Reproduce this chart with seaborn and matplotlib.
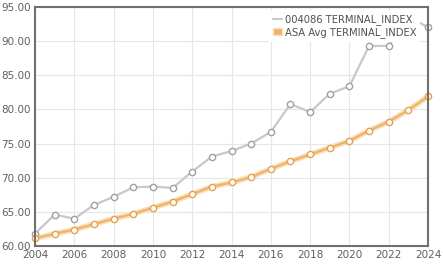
import matplotlib
matplotlib.use("Agg")
import matplotlib.pyplot as plt
import seaborn as sns
import pandas as pd
from matplotlib.ticker import FormatStrFormatter, MultipleLocator
from matplotlib.lines import Line2D
from matplotlib.patches import Patch

years = list(range(2004, 2025))
fund_values = [61.8, 64.6, 64.0, 66.0, 67.2, 68.6, 68.7, 68.5, 70.9, 73.1, 73.9,
               75.0, 76.7, 80.8, 79.6, 82.3, 83.4, 89.3, 89.3, 93.7, 92.0]
avg_values = [61.1, 61.8, 62.4, 63.2, 64.0, 64.7, 65.6, 66.5, 67.6, 68.7, 69.3,
              70.1, 71.3, 72.4, 73.4, 74.4, 75.4, 76.9, 78.2, 79.9, 81.9]
series_names = ["004086 TERMINAL_INDEX", "ASA Avg TERMINAL_INDEX"]

df = pd.DataFrame({"year": years * 2,
                   "value": fund_values + avg_values,
                   "series": [series_names[0]] * len(years) + [series_names[1]] * len(years)})

sns.set_style("white")
fig = plt.figure(figsize=(4.43, 2.67), dpi=100)
ax = fig.add_axes([35 / 443, 1 - 246 / 267, (428 - 35) / 443, (246 - 7) / 267])

gray = "#c8c8c8"
orange = "#f0b264"
ax.plot(years, avg_values, color="#f8dfbd", lw=4.0, zorder=2, solid_capstyle="round")
sns.lineplot(data=df, x="year", y="value", hue="series",
             palette={series_names[0]: gray, series_names[1]: orange},
             linewidth=1.6, marker="o", markersize=4.5, markerfacecolor="white",
             markeredgewidth=1.0, ax=ax, legend=False, zorder=3)
for ln, c in zip(ax.lines[1:], ["#a0a0a0", "#e8a050"]):
    ln.set_markeredgecolor(c)
    ln.set_clip_on(False)

ax.set_xlim(2004, 2024)
ax.set_ylim(60, 95)
ax.xaxis.set_major_locator(MultipleLocator(2))
ax.yaxis.set_major_locator(MultipleLocator(5))
ax.yaxis.set_major_formatter(FormatStrFormatter("%.2f"))
ax.grid(True, color="#e6e6e6", lw=0.8)
ax.set_xlabel("")
ax.set_ylabel("")
for s in ax.spines.values():
    s.set_color("#707070")
    s.set_linewidth(1.5)
    s.set_zorder(5)
ax.tick_params(axis="both", labelsize=7.5, colors="#606060", length=0, pad=3)

handles = [Line2D([0], [0], color=gray, lw=1.5),
           Patch(facecolor=orange, edgecolor="#f8dfbd")]
leg = ax.legend(handles, series_names, loc="upper right", frameon=True,
                fontsize=7.2, handlelength=0.9, handletextpad=0.3,
                labelspacing=0.15, borderaxespad=0.0, borderpad=0.4,
                bbox_to_anchor=(0.98, 0.985), fancybox=False)
leg.get_frame().set_facecolor("white")
leg.get_frame().set_edgecolor("none")
leg.get_frame().set_alpha(1.0)
leg.set_zorder(10)
for t in leg.get_texts():
    t.set_color("#505050")

fig.savefig("out.png", dpi=100)
